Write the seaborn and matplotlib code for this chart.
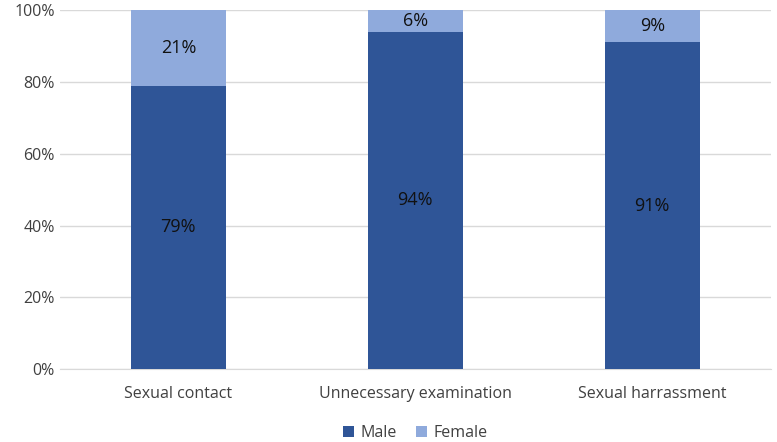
import pandas as pd
import matplotlib.pyplot as plt
import seaborn as sns
from matplotlib.ticker import PercentFormatter

# Dados do gráfico
categorias = ['Sexual contact', 'Unnecessary examination', 'Sexual harrassment']
male = [79, 94, 91]
female = [21, 6, 9]

cor_male = '#2F5597'
cor_female = '#8FAADC'

sns.set_style('white')
plt.rcParams['font.family'] = ['Open Sans', 'DejaVu Sans']

df = pd.DataFrame({'categoria': categorias, 'male': male, 'female': female})
df['total'] = df['male'] + df['female']

fig = plt.figure(figsize=(7.77, 4.42), dpi=100)
ax = fig.add_axes([0.077, 0.165, 0.915, 0.812])

# barras empilhadas: total (female por cima) e male por baixo
sns.barplot(x='categoria', y='total', data=df, color=cor_female, width=0.4,
            ax=ax, label='Female', saturation=1, zorder=3, linewidth=0)
sns.barplot(x='categoria', y='male', data=df, color=cor_male, width=0.4,
            ax=ax, label='Male', saturation=1, zorder=3, linewidth=0)

# rótulos
for i, (m, f) in enumerate(zip(male, female)):
    ax.text(i, m / 2, f'{m}%', ha='center', va='center', fontsize=13, color='#111111', zorder=4)
    ax.text(i, m + f / 2, f'{f}%', ha='center', va='center', fontsize=13, color='#111111', zorder=4)

ax.set_ylim(0, 100)
ax.set_yticks(range(0, 101, 20))
ax.yaxis.set_major_formatter(PercentFormatter(decimals=0))
ax.grid(axis='y', color='#D9D9D9', linewidth=1, zorder=0)
ax.set_xlabel('')
ax.set_ylabel('')
ax.tick_params(axis='both', labelsize=11.5, colors='#404040', length=0)
ax.tick_params(axis='x', pad=12)
for s in ['top', 'right', 'left']:
    ax.spines[s].set_visible(False)
ax.spines['bottom'].set_color('#D9D9D9')

handles, labels = ax.get_legend_handles_labels()
order = [labels.index('Male'), labels.index('Female')]
ax.legend([handles[k] for k in order], [labels[k] for k in order],
          loc='upper center', bbox_to_anchor=(0.5, -0.148), ncol=2, frameon=False,
          fontsize=11.5, handlelength=0.7, handleheight=0.7, columnspacing=1.2,
          handletextpad=0.4, labelcolor='#404040', borderaxespad=0, borderpad=0.2)

plt.savefig('out.png', dpi=100)
